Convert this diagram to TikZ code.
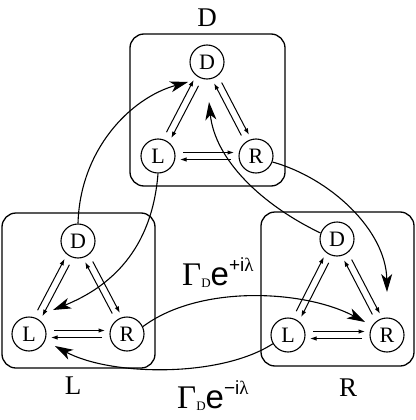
\documentclass[tikz,border=0pt]{standalone}
\usepackage{fontspec}
\setmainfont{Liberation Serif}
\newfontfamily\sansf{Liberation Sans}
\usetikzlibrary{arrows.meta,calc}
\newcommand\sar[2]{\draw[sarr] ($(#1)!3.5pt!90:(#2)$) -- ($(#2)!3.5pt!-90:(#1)$);}
\newcommand\sarpair[2]{\sar{#1}{#2}\sar{#2}{#1}}
\newcommand\ratelab[1]{\fontsize{33}{33}\selectfont Γ\raisebox{-2pt}{\fontsize{13}{13}\selectfont D}{\sansf e}\raisebox{14pt}{\fontsize{19}{19}\selectfont{\sansf #1i}λ}}
\newcommand\stt[1]{{\fontsize{22}{22}\selectfont #1}}
\newcommand\bxt[1]{{\fontsize{27}{27}\selectfont #1}}
\begin{document}
\begin{tikzpicture}[x=1pt,y=-1pt,
  st/.style={circle,draw,line width=1.1pt,minimum size=34pt,inner sep=0pt},
  frame/.style={draw,line width=1.3pt,rounded corners=14pt},
  sarr/.style={line width=1pt,-{Latex[length=6.5pt,width=4.5pt]},shorten <=25pt,shorten >=22pt},
  barr/.style={line width=1.1pt,-{Stealth[length=18pt,width=11pt,inset=5pt]}},
  boxlab/.style={inner sep=0pt},
  ratel/.style={inner sep=0pt,anchor=base west}]
\useasboundingbox (0,0) rectangle (415,420);
% frames
\draw[frame] (130,34) rectangle (285,186);
\draw[frame] (2,213) rectangle (155,368);
\draw[frame] (261,212) rectangle (414,366);
% frame labels
\node[boxlab] (labD) at (207,18) {\bxt{D}};
\node[boxlab] (labL) at (73,386) {\bxt{L}};
\node[boxlab] (labR) at (348,388) {\bxt{R}};
% states
\node[st] (tD) at (207,62) {\stt{D}};
\node[st] (tL) at (158,156) {\stt{L}};
\node[st] (tR) at (256,156) {\stt{R}};
\node[st] (lD) at (78,241) {\stt{D}};
\node[st] (lL) at (29,334) {\stt{L}};
\node[st] (lR) at (127,334) {\stt{R}};
\node[st] (rD) at (337,239) {\stt{D}};
\node[st] (rL) at (288,335) {\stt{L}};
\node[st] (rR) at (387,335) {\stt{R}};
% internal transitions
\sarpair{tL}{tD}\sarpair{tD}{tR}\sarpair{tR}{tL}
\sarpair{lL}{lD}\sarpair{lD}{lR}\sarpair{lR}{lL}
\sarpair{rL}{rD}\sarpair{rD}{rR}\sarpair{rR}{rL}
% end points of long arrows
\coordinate (e1) at (188,82);
\coordinate (e2) at (53,310);
\coordinate (e3) at (387,292);
\coordinate (e4) at (209,102);
\coordinate (e5) at (365,322);
\coordinate (e6) at (55,346);
% long transitions
\draw[barr] (lD.north) .. controls (80,150) and (130,98) .. (e1);
\draw[barr] (tL.south) .. controls (152,250) and (110,287) .. (e2);
\draw[barr] (tR.-20) .. controls (330,178) and (386,230) .. (e3);
\draw[barr] (rD.160) .. controls (262,205) and (215,160) .. (e4);
\draw[barr] (lR.25) .. controls (200,284) and (305,290) .. (e5);
\draw[barr] (rL.-150) .. controls (220,378) and (110,376) .. (e6);
% rate labels
\node[ratel] (gp) at (182,285) {\ratelab{+}};
\node[ratel] (gm) at (177,408) {\ratelab{−}};
\end{tikzpicture}
\end{document}
